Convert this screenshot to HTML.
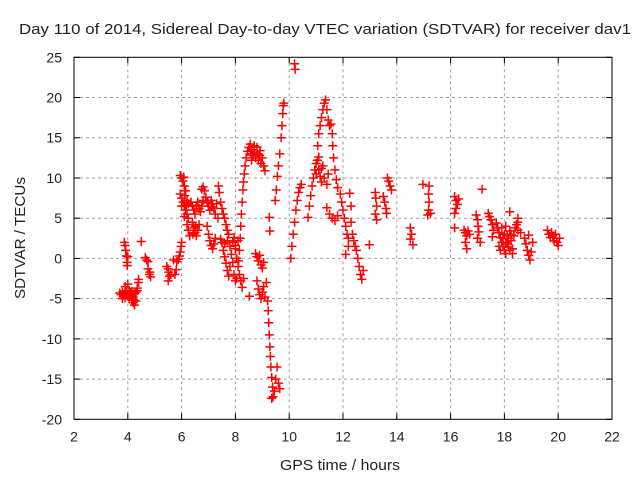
<!DOCTYPE html>
<html><head><meta charset="utf-8"><style>
body{margin:0;background:#fff}
svg{display:block;font-family:"Liberation Sans",Arial,sans-serif}
</style></head><body>
<svg id="chart" width="640" height="480" viewBox="0 0 640 480" xmlns="http://www.w3.org/2000/svg">
<rect width="640" height="480" fill="#fff"/>
<text x="325" y="34" font-size="15" text-anchor="middle" fill="#222" textLength="612" lengthAdjust="spacingAndGlyphs">Day 110 of 2014, Sidereal Day-to-day VTEC variation (SDTVAR) for receiver dav1</text>
<text x="0" y="0" font-size="15" text-anchor="middle" fill="#222" textLength="122" lengthAdjust="spacingAndGlyphs" transform="translate(25,238) rotate(-90)">SDTVAR / TECUs</text>
<text x="340" y="470" font-size="15" text-anchor="middle" fill="#222" textLength="120" lengthAdjust="spacingAndGlyphs">GPS time / hours</text>
<g id="grid"></g>
<g id="points"></g>
<g id="axes"></g>
</svg>
<script>
const xTicks=[2,4,6,8,10,12,14,16,18,20,22];
const yTicks=[-20,-15,-10,-5,0,5,10,15,20,25];
const samples=[
[3.7,-4.3],[3.75,-4.5],[3.8,-4.2],[3.85,-4.6],[3.9,-3.5],[3.9,-4.9],[3.95,-4.4],[4.0,-3.2],[4.0,-4.6],[4.05,-4.0],[4.05,-5.0],[4.1,-4.5],[4.15,-5.2],[4.15,-4.1],[4.2,-5.5],[4.2,-4.8],[4.25,-5.8],[4.25,-4.4],[4.3,-5.3],[4.3,-4.2],[4.35,-4.0],[4.35,-3.7],[4.4,-3.0],[4.4,-2.6],[3.8,-5.0],[3.95,-4.0],[4.1,-4.2],[4.22,-5.1],
[3.87,2.0],[3.9,1.6],[3.92,1.0],[3.95,0.3],[3.97,-0.5],[3.98,-0.9],[4.0,0.2],
[4.5,2.1],
[4.65,0.1],[4.7,-0.2],[4.75,-0.4],[4.75,-1.3],[4.8,-2.0],[4.85,-2.3],[4.82,-1.7],
[5.45,-1.0],[5.5,-1.3],[5.52,-1.7],[5.55,-2.2],[5.5,-2.8],
[5.75,-2.0],[5.8,-1.4],[5.82,-0.4],[5.88,-0.1],[5.92,0.3],[5.95,0.8],[5.98,1.5],[6.0,2.0],[5.7,-0.2],[5.6,-2.0],
[5.95,10.3],[6.0,10.0],[6.05,9.6],[6.1,9.0],[6.15,8.4],[5.95,8.0],[6.0,7.5],[6.05,7.0],[6.1,6.5],[6.15,6.0],[6.2,5.5],[6.25,5.0],[6.2,4.2],[6.25,3.5],[6.3,2.8],[6.1,5.2],[6.0,6.5],[6.2,7.2],[6.25,6.8],[6.08,10.1],[6.12,7.8],[6.18,6.6],
[6.35,7.0],[6.4,6.5],[6.45,6.0],[6.5,5.5],[6.55,6.6],[6.6,7.0],[6.65,6.2],[6.7,5.8],[6.75,6.5],[6.8,7.2],[6.4,4.5],[6.45,3.8],[6.5,3.2],[6.55,2.8],[6.6,3.5],[6.65,4.2],[6.42,3.0],[6.52,4.0],
[6.75,8.6],[6.8,8.9],[6.85,8.4],
[6.9,7.6],[6.95,7.0],[7.0,6.5],[7.05,6.0],[7.1,7.2],[7.15,6.8],[7.2,6.2],[7.25,5.5],[7.3,6.8],[7.35,5.0],[6.95,4.0],[7.0,3.0],[7.05,2.2],[7.1,1.6],[7.15,1.2],[7.2,1.8],[7.25,2.5],[6.98,6.9],[7.12,6.4],
[7.37,9.0],[7.4,8.2],[7.45,7.0],[7.5,6.2],[7.55,5.5],[7.6,5.0],[7.65,4.2],[7.7,3.5],[7.75,3.0],[7.45,2.4],[7.5,2.0],[7.6,1.8],[7.7,2.2],[7.8,1.5],[7.9,2.0],[8.0,1.6],
[7.55,1.0],[7.6,0.2],[7.65,-0.6],[7.7,-1.5],[7.75,-2.2],[7.8,-1.0],[7.85,0.5],[7.9,-0.5],[7.95,-2.0],[8.0,-2.8],
[7.95,2.6],[8.0,1.2],[8.05,0.0],[8.1,-1.0],[8.15,-2.0],[8.2,-2.8],[8.25,-3.6],[8.3,-2.5],[8.05,-2.5],[8.1,2.2],
[8.12,-0.3],[8.15,1.0],[8.18,2.5],[8.2,4.0],[8.22,5.5],[8.25,7.0],[8.28,8.5],[8.3,9.5],[8.33,10.5],[8.36,11.5],[8.4,12.5],[8.45,13.3],
[8.5,13.8],[8.55,14.2],[8.6,13.5],[8.65,12.8],[8.7,13.2],[8.75,12.5],[8.8,13.8],[8.85,12.2],[8.9,12.8],[8.95,11.8],[9.0,12.5],[9.05,11.5],[9.1,10.9],[8.6,12.2],[8.7,14.0],[8.52,-4.7],[8.58,13.0],[8.82,13.0],[8.92,13.4],
[8.75,0.6],[8.8,0.2],[8.85,-0.3],[8.9,0.4],[8.95,-0.8],[9.0,-1.2],[9.05,-0.5],[8.8,-2.8],[8.85,-3.8],[8.9,-4.5],[8.95,-5.0],[9.0,-4.2],[9.05,-3.5],[9.1,-4.8],[9.15,-3.0],[9.2,-5.3],[9.22,-6.5],[9.24,-8.0],[9.26,-9.5],[9.28,-11.0],[9.3,-12.2],[9.32,-13.5],[9.35,-14.8],[9.38,-16.0],[9.4,-17.2],[9.45,-16.5],[9.5,-15.0],[9.55,-13.5],[9.6,-15.5],[9.65,-16.2],[9.35,-17.4],[9.26,5.1],[9.28,3.4],
[9.48,7.2],[9.52,8.5],[9.56,10.2],[9.6,11.5],[9.65,13.0],[9.7,15.0],[9.73,16.5],[9.76,18.0],[9.78,19.0],[9.8,19.3],
[10.2,24.2],[10.22,23.5],
[10.06,0.0],[10.1,1.5],[10.15,3.0],[10.2,4.5],[10.25,6.0],[10.3,7.2],[10.35,8.2],[10.4,8.8],[10.45,9.2],
[10.7,5.1],[10.75,6.5],[10.8,7.8],[10.85,9.0],[10.9,10.0],[10.95,11.0],[11.0,11.8],[11.05,12.2],[11.1,11.0],[11.15,10.2],[11.2,9.5],[11.25,11.5],[11.3,10.0],[11.4,9.2],[11.45,10.5],[11.1,12.6],[11.0,10.5],[11.2,11.2],
[11.06,14.0],[11.1,15.5],[11.15,16.5],[11.2,17.5],[11.25,18.5],[11.3,19.3],[11.35,19.7],[11.4,18.5],[11.45,17.2],[11.5,16.5],[11.55,16.7],[11.6,15.5],[11.62,14.0],[11.65,12.5],[11.7,11.0],[11.75,9.8],[11.8,8.8],
[11.4,6.3],[11.5,5.5],[11.6,5.0],[11.7,4.7],[11.8,5.3],
[11.9,8.0],[11.95,7.0],[12.0,6.0],[12.05,5.0],[12.1,4.0],[12.15,3.0],[12.2,2.5],[12.25,8.1],[12.3,6.5],[12.3,4.5],[12.35,3.0],[12.4,2.2],[12.45,1.5],[12.5,1.0],[12.55,0.0],[12.6,-1.0],[12.65,-2.0],[12.7,-2.6],[12.75,-1.5],[12.2,1.5],[12.1,0.5],
[12.98,1.7],
[13.2,8.2],[13.22,7.5],[13.25,6.5],[13.2,5.5],[13.25,4.8],[13.5,7.7],[13.55,7.0],[13.6,6.2],[13.62,5.6],[13.65,10.0],[13.7,9.6],[13.75,9.0],[13.8,8.5],
[14.5,3.8],[14.55,3.0],[14.5,2.4],[14.6,1.7],
[14.97,9.2],[15.2,9.0],[15.18,8.0],[15.2,7.0],[15.18,6.0],[15.15,5.4],[15.25,5.6],
[16.15,7.7],[16.2,7.2],[16.25,6.7],[16.3,7.4],[16.2,6.2],[16.15,5.6],[16.15,3.8],
[16.5,3.5],[16.55,3.2],[16.6,2.8],[16.65,3.4],[16.7,3.0],[16.55,2.0],[16.6,1.2],
[16.95,5.4],[17.0,4.8],[17.02,4.0],[17.05,3.3],[17.0,2.5],[17.1,2.0],[17.17,8.6],
[17.4,5.6],[17.45,5.2],[17.5,4.8],[17.55,4.2],[17.6,3.5],[17.55,2.7],
[17.7,4.4],[17.75,3.8],[17.8,3.2],[17.85,2.6],[17.9,2.0],[17.95,1.5],[18.0,1.0],[18.05,0.6],[18.1,1.8],[18.15,2.5],[18.2,3.4],[18.25,2.2],[18.3,1.2],[18.35,2.8],[18.4,3.8],[18.45,4.2],[18.5,3.5],[17.8,1.5],[17.9,3.8],[18.0,3.0],[18.05,4.0],[18.1,2.8],[18.2,5.8],[18.2,1.0],[18.3,0.6],[18.5,5.0],[18.5,4.5],[18.6,3.2],[17.85,1.0],[17.95,2.5],[18.05,2.0],[18.15,1.4],[18.25,3.0],
[18.75,2.5],[18.8,1.8],[18.85,1.0],[18.9,0.4],[18.95,-0.2],[19.0,0.8],[19.05,2.0],[18.9,2.9],
[19.6,3.5],[19.65,3.0],[19.7,2.6],[19.75,3.2],[19.8,2.8],[19.85,2.2],[19.9,3.0],[19.95,2.0],[20.0,1.6],[20.05,2.5]
];
const NS='http://www.w3.org/2000/svg';
const L=74,R=612,T=57.3,B=419.3,XMIN=2,XMAX=22,YMIN=-20,YMAX=25;
function sx(v){return L+(v-XMIN)/(XMAX-XMIN)*(R-L);}
function sy(v){return B-(v-YMIN)/(YMAX-YMIN)*(B-T);}
function mk(tag,attrs,parent){const e=document.createElementNS(NS,tag);for(const k in attrs)e.setAttribute(k,attrs[k]);parent.appendChild(e);return e;}
const grid=document.getElementById('grid'),axes=document.getElementById('axes'),pts=document.getElementById('points');
xTicks.forEach(t=>{
  const x=sx(t);
  if(t>XMIN&&t<XMAX){const g=mk('line',{x1:x,x2:x,y1:T,y2:B,stroke:'#a0a0a0','stroke-dasharray':'3,3'},grid);
  
  }
  mk('line',{x1:x,x2:x,y1:B,y2:B-6,stroke:'#000'},axes);
  mk('line',{x1:x,x2:x,y1:T,y2:T+6,stroke:'#000'},axes);
  const lb=mk('text',{x:x,y:B+22,'font-size':14,'text-anchor':'middle',fill:'#222'},axes);
  lb.textContent=t;
  
  
});
yTicks.forEach(t=>{
  const y=sy(t);
  if(t>YMIN&&t<YMAX){const g=mk('line',{x1:L,x2:R,y1:y,y2:y,stroke:'#a0a0a0','stroke-dasharray':'3,3'},grid);
  
  }
  mk('line',{x1:L,x2:L+6,y1:y,y2:y,stroke:'#000'},axes);
  mk('line',{x1:R,x2:R-6,y1:y,y2:y,stroke:'#000'},axes);
  const lb=mk('text',{x:L-12,y:y+5,'font-size':14,'text-anchor':'end',fill:'#222'},axes);
  lb.textContent=t;
  
  
});
const frame=mk('rect',{x:L,y:T,width:R-L,height:B-T,fill:'none',stroke:'#000'},axes);


samples.forEach(p=>{
  const x=sx(p[0]),y=sy(p[1]);
  const e=mk('path',{d:`M${x-4.5},${y}H${x+4.5}M${x},${y-4.5}V${y+4.5}`,stroke:'#ff0000','stroke-width':1.5,fill:'none'},pts);
  
  
});
</script>
</body></html>
